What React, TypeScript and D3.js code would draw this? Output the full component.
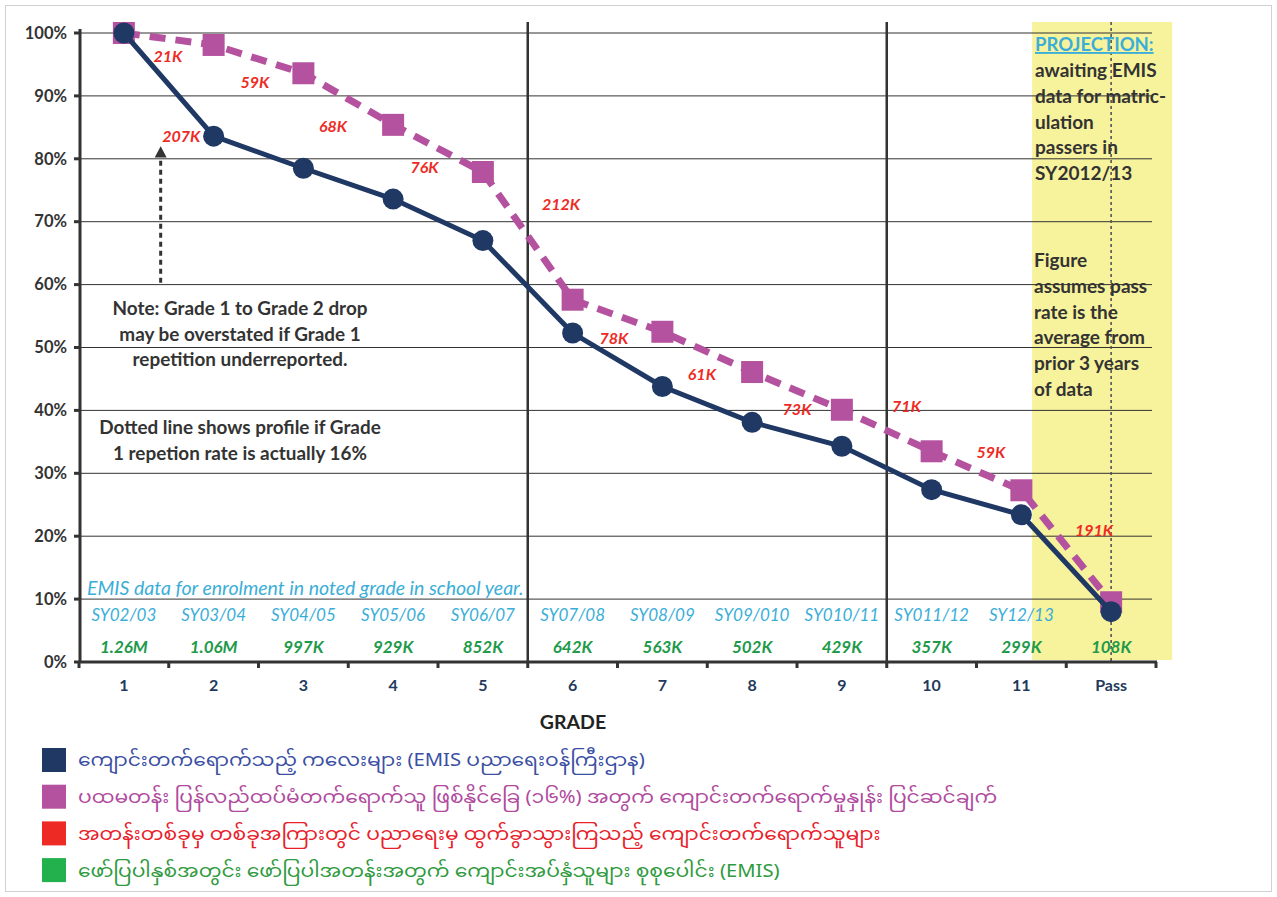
import React from "react";
import * as d3 from "d3";

const grades = ["1", "2", "3", "4", "5", "6", "7", "8", "9", "10", "11", "Pass"];
const emisSeries = [100, 83.6, 78.5, 73.6, 67.0, 52.3, 43.8, 38.1, 34.3, 27.4, 23.4, 8.0];
const adjustedSeries = [100, 98.1, 93.6, 85.4, 77.9, 57.6, 52.5, 46.1, 40.1, 33.5, 27.3, 9.5];
const schoolYears = ["SY02/03", "SY03/04", "SY04/05", "SY05/06", "SY06/07", "SY07/08", "SY08/09", "SY09/010", "SY010/11", "SY011/12", "SY12/13", ""];
const enrolments = ["1.26M", "1.06M", "997K", "929K", "852K", "642K", "563K", "502K", "429K", "357K", "299K", "108K"];
const yTicks = [0, 10, 20, 30, 40, 50, 60, 70, 80, 90, 100];
// dropout labels: fractional grade index, value (%), text
const dropIdx = [0.49, 1.46, 2.33, 3.35, 4.87, 0.64, 5.46, 6.44, 7.5, 8.72, 9.66, 10.81];
const dropVal = [96.3, 92.2, 85.2, 78.7, 72.8, 83.5, 51.5, 45.8, 40.1, 40.7, 33.4, 21.0];
const dropText = ["21K", "59K", "68K", "76K", "212K", "207K", "78K", "61K", "73K", "71K", "59K", "191K"];
const legendItems = [
  "ကျောင်းတက်ရောက်သည့် ကလေးများ (EMIS ပညာရေးဝန်ကြီးဌာန)",
  "ပထမတန်း ပြန်လည်ထပ်မံတက်ရောက်သူ ဖြစ်နိုင်ခြေ (၁၆%) အတွက် ကျောင်းတက်ရောက်မှုနှုန်း ပြင်ဆင်ချက်",
  "အတန်းတစ်ခုမှ တစ်ခုအကြားတွင် ပညာရေးမှ ထွက်ခွာသွားကြသည့် ကျောင်းတက်ရောက်သူများ",
  "ဖော်ပြပါနှစ်အတွင်း ဖော်ပြပါအတန်းအတွက် ကျောင်းအပ်နှံသူများ စုစုပေါင်း (EMIS)",
];
const legendSwatch = ["#1f3864", "#b4529f", "#ee2a24", "#22b14c"];
const legendText = ["#3b4fa3", "#b04a9e", "#e8202a", "#2f9a3e"];
const noteLines = ["Note: Grade 1 to Grade 2 drop", "may be overstated if Grade 1", "repetition underreported."];
const dottedNote = ["Dotted line shows profile if Grade", "1 repetion rate is actually 16%"];
const projLines = ["awaiting EMIS", "data for matric-", "ulation", "passers in", "SY2012/13"];
const figLines = ["Figure", "assumes pass", "rate is the", "average from", "prior 3 years", "of data"];

const FONT = "Lato, 'Open Sans', sans-serif";

export default function App() {
  const x = d3.scaleBand<string>().domain(grades).range([79, 1156]).padding(0);
  const bw = x.bandwidth();
  const cx = (g: string) => (x(g) as number) + bw / 2;
  const xi = d3.scaleLinear().domain([0, grades.length - 1]).range([cx(grades[0]), cx(grades[grades.length - 1])]);
  const y = d3.scaleLinear().domain([0, 100]).range([662, 33]);

  const line = d3.line<number>().x((_, i) => cx(grades[i])).y((d) => y(d));
  const top = 22;
  const projX0 = xi(10.12);
  const projX1 = xi(11.68);

  return (
    <svg width={1277} height={897} style={{ position: "absolute", left: 0, top: 0, fontFamily: FONT }}>
      <rect x={0} y={0} width={1277} height={897} fill="#fff" />
      <rect x={5.5} y={5.5} width={1266} height={886} fill="none" stroke="#d0d0d0" strokeWidth={1} />
      {/* projection highlight */}
      <rect x={projX0} y={top} width={projX1 - projX0} height={y(0) - top - 2} fill="#f7f29c" />
      {/* gridlines */}
      {yTicks.filter((t) => t > 0).map((t) => (
        <line key={t} x1={80} x2={1152} y1={y(t)} y2={y(t)} stroke="#333" strokeWidth={1} />
      ))}
      {/* Pass dotted line */}
      <line x1={cx("Pass")} x2={cx("Pass")} y1={top} y2={y(0)} stroke="#555" strokeWidth={1.6} strokeDasharray="3 3" />
      {/* separator lines */}
      {["6", "10"].map((g) => (
        <line key={g} x1={x(g) as number} x2={x(g) as number} y1={top} y2={y(0)} stroke="#333" strokeWidth={2.5} />
      ))}
      {/* y axis */}
      <line x1={80} x2={80} y1={y(100) - 4} y2={y(0)} stroke="#333" strokeWidth={3} />
      {yTicks.map((t) => (
        <g key={t}>
          <line x1={74} x2={80} y1={y(t)} y2={y(t)} stroke="#333" strokeWidth={3} />
          <text x={67} y={y(t)} dy="0.35em" textAnchor="end" fontSize={16.5} fontWeight={700} fill="#333">
            {t}%
          </text>
        </g>
      ))}
      {/* x axis */}
      <line x1={79} x2={1157} y1={y(0)} y2={y(0)} stroke="#333" strokeWidth={3} />
      {grades.map((g) => (
        <line key={"t" + g} x1={x(g) as number} x2={x(g) as number} y1={y(0)} y2={y(0) + 6} stroke="#333" strokeWidth={3} />
      ))}
      <line x1={1156} x2={1156} y1={y(0)} y2={y(0) + 6} stroke="#333" strokeWidth={3} />
      {grades.map((g) => (
        <text key={"l" + g} x={cx(g)} y={691} textAnchor="middle" fontSize={16} fontWeight={700} fill="#1f3a5c">
          {g}
        </text>
      ))}
      <text x={573} y={729} textAnchor="middle" fontSize={19.5} fontWeight={700} fill="#222">GRADE</text>

      {/* EMIS notes */}
      <text x={87} y={595} fontSize={19.5} fontStyle="italic" fontWeight={400} fill="#3aaed8">
        EMIS data for enrolment in noted grade in school year.
      </text>
      {schoolYears.map((s, i) => (
        <text key={"sy" + i} x={cx(grades[i])} y={621} textAnchor="middle" fontSize={17} fontStyle="italic" fontWeight={400} fill="#3aaed8">
          {s}
        </text>
      ))}
      {enrolments.map((s, i) => (
        <text key={"en" + i} x={cx(grades[i])} y={653} textAnchor="middle" fontSize={17} fontStyle="italic" fontWeight={700} fill="#1e9a4a">
          {s}
        </text>
      ))}

      {/* series */}
      <path d={line(adjustedSeries) || ""} fill="none" stroke="#b4529f" strokeWidth={7} strokeDasharray="16 10" />
      {adjustedSeries.map((v, i) => (
        <rect key={"sq" + i} x={cx(grades[i]) - 11} y={y(v) - 11} width={22} height={22} fill="#b4529f" />
      ))}
      <path d={line(emisSeries) || ""} fill="none" stroke="#1f3864" strokeWidth={5} />
      {emisSeries.map((v, i) => (
        <circle key={"c" + i} cx={cx(grades[i])} cy={y(v)} r={10.5} fill="#1f3864" />
      ))}

      {/* dropout labels */}
      {dropText.map((t, i) => (
        <text key={"d" + i} x={xi(dropIdx[i])} y={y(dropVal[i])} dy="0.35em" textAnchor="middle" fontSize={16} fontStyle="italic" fontWeight={700} fill="#ee2a24">
          {t}
        </text>
      ))}

      {/* arrow */}
      <line x1={xi(0.41)} x2={xi(0.41)} y1={y(60.3)} y2={y(80.3)} stroke="#333" strokeWidth={3} strokeDasharray="5 4" />
      <path d={`M${xi(0.41) - 6},${y(80.2)} L${xi(0.41) + 6},${y(80.2)} L${xi(0.41)},${y(82.0)} Z`} fill="#333" />

      {/* notes */}
      {noteLines.map((t, i) => (
        <text key={"n" + i} x={240} y={315 + i * 25.5} textAnchor="middle" fontSize={18.9} fontWeight={700} fill="#333">{t}</text>
      ))}
      {dottedNote.map((t, i) => (
        <text key={"dn" + i} x={240} y={434 + i * 25.5} textAnchor="middle" fontSize={18.9} fontWeight={700} fill="#333">{t}</text>
      ))}

      {/* projection text */}
      <text x={1035} y={51} fontSize={18.5} fontWeight={700} fill="#3aaed8" textDecoration="underline">PROJECTION:</text>
      {projLines.map((t, i) => (
        <text key={"p" + i} x={1035} y={77 + i * 25.8} fontSize={19} fontWeight={700} fill="#333">{t}</text>
      ))}
      {figLines.map((t, i) => (
        <text key={"f" + i} x={1034} y={267 + i * 25.8} fontSize={19} fontWeight={700} fill="#333">{t}</text>
      ))}

      {/* legend */}
      {legendItems.map((t, i) => (
        <g key={"lg" + i}>
          <rect x={42} y={748 + i * 36.7} width={24} height={24} fill={legendSwatch[i]} />
          <text transform={`translate(78,${760 + i * 36.7}) scale(1.1,1)`} dy="0.35em" fontSize={18.4} fill={legendText[i]}
            style={{ fontFamily: "'Noto Sans Myanmar', 'Myanmar Text', Padauk, 'Noto Sans', sans-serif" }}>
            {t}
          </text>
        </g>
      ))}
    </svg>
  );
}
